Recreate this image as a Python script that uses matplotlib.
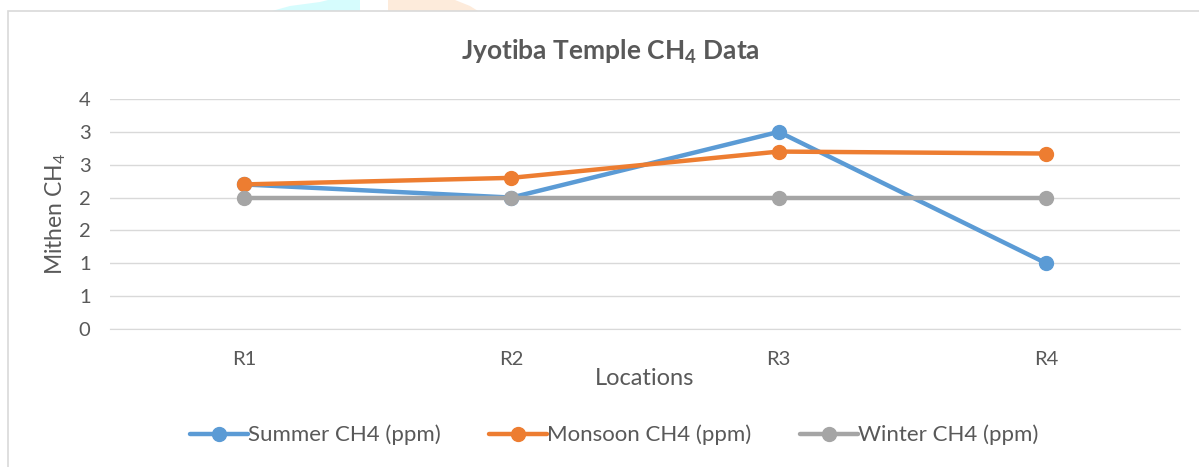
import matplotlib
matplotlib.use("Agg")
import matplotlib.pyplot as plt
from matplotlib.ticker import FixedLocator, FixedFormatter
from matplotlib.patches import Rectangle, Polygon

locations = ["R1", "R2", "R3", "R4"]
summer = [2.2, 2.0, 3.0, 1.0]
monsoon = [2.2, 2.3, 2.7, 2.67]
winter = [2.0, 2.0, 2.0, 2.0]
series_names = ["Summer CH4 (ppm)", "Monsoon CH4 (ppm)", "Winter CH4 (ppm)"]
y_ticks = [0, 0.5, 1.0, 1.5, 2.0, 2.5, 3.0, 3.5]
y_tick_labels = ["0", "1", "1", "2", "2", "3", "3", "4"]

colors = ["#5B9BD5", "#ED7D31", "#A5A5A5"]
text_color = "#595959"
grid_color = "#D9D9D9"

plt.rcParams['font.family'] = ['Lato', 'DejaVu Sans']
plt.rcParams['mathtext.fontset'] = 'custom'
plt.rcParams['mathtext.rm'] = 'Lato'
plt.rcParams['mathtext.bf'] = 'Lato:bold'

W, H = 1199, 467
fig = plt.figure(figsize=(W / 100, H / 100), dpi=100)

# decorative watermark shapes at top
fig.patches.append(Polygon([(272 / W, 1 - 11 / H), (290 / W, 1 - 6 / H), (320 / W, 1 - 2 / H), (328 / W, 1),
                            (360 / W, 1), (360 / W, 1 - 11 / H)],
                           closed=True, transform=fig.transFigure, facecolor="#D6FCFD", edgecolor="none", zorder=0))
fig.patches.append(Polygon([(388 / W, 1 - 11 / H), (388 / W, 1), (455 / W, 1), (470 / W, 1 - 6 / H), (478 / W, 1 - 11 / H)],
                           closed=True, transform=fig.transFigure, facecolor="#FDEBDB", edgecolor="none", zorder=0))
# chart area border
fig.patches.append(Rectangle((8 / W, -0.1), 1.2, 1 - 11 / H + 0.1, transform=fig.transFigure,
                             facecolor="white", edgecolor=grid_color, linewidth=1.2, zorder=1))

left, right, top, bottom = 110, 1180, 99, 329
ax = fig.add_axes([left / W, 1 - bottom / H, (right - left) / W, (bottom - top) / H])
ax.set_zorder(2)
ax.patch.set_alpha(0)

x = list(range(len(locations)))
for vals, name, c in zip([summer, monsoon, winter], series_names, colors):
    ax.plot(x, vals, color=c, linewidth=3.2, marker="o", markersize=10, label=name,
            solid_capstyle="round")

ax.set_xlim(-0.5, len(locations) - 0.5)
ax.set_ylim(0, 3.5)
ax.yaxis.set_major_locator(FixedLocator(y_ticks))
ax.yaxis.set_major_formatter(FixedFormatter(y_tick_labels))
ax.set_xticks(x)
ax.set_xticklabels(locations)
ax.grid(axis="y", color=grid_color, linewidth=1)
ax.set_axisbelow(True)
for s in ["top", "right", "left"]:
    ax.spines[s].set_visible(False)
ax.spines["bottom"].set_color(grid_color)
ax.tick_params(axis="both", length=0, colors=text_color, labelsize=14.5)
ax.tick_params(axis="y", pad=14)
ax.tick_params(axis="x", pad=16)

ax.set_xlabel("Locations", fontsize=17, color=text_color, labelpad=0)
ax.set_ylabel("Mithen CH$_4$", fontsize=16.5, color=text_color, labelpad=8)

fig.text(610 / W, 1 - 52 / H, r"Jyotiba Temple CH$_\mathbf{4}$ Data", ha="center", va="center",
         fontsize=19, fontweight="bold", color=text_color)

fig.legend(loc="center", bbox_to_anchor=(614 / W, 1 - 435 / H), ncol=3, frameon=False,
           fontsize=16, labelcolor=text_color, handlelength=2.6, handletextpad=0.0,
           columnspacing=2.2)

fig.savefig("out.png", dpi=100)
